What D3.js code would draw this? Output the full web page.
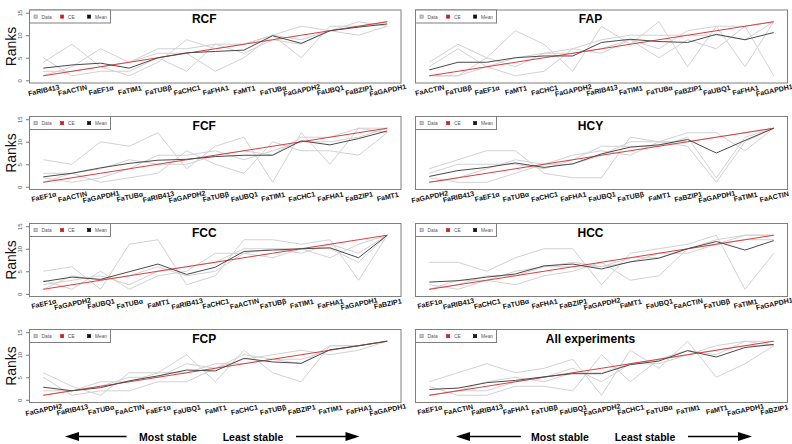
<!DOCTYPE html>
<html><head><meta charset="utf-8">
<script src="https://cdn.jsdelivr.net/npm/d3@7"></script>
<style>body{margin:0;background:#fff}svg{display:block}</style>
</head><body>
<svg id="c" width="792" height="444"></svg>
<script>
// ---------- data ----------
const ceRanks = [1,2,3,4,5,6,7,8,9,10,11,12,13];
const yTicks = [0,5,10,15];

const genesRCF = ["FaRIB413","FaACTIN","FaEF1α","FaTIM1","FaTUBβ","FaCHC1","FaFHA1","FaMT1","FaTUBα","FaGAPDH2","FaUBQ1","FaBZIP1","FaGAPDH1"];
const dataRCF = [
  [4,8,3,1,4,9,7,8,10,12,11,13,12],
  [1,3,7,4,6,6,2,5,10,5,12,12,13],
  [5,1,2,2,5,2,8,6,9,8,11,10,12],
  [2,2,3,4,7,7,8,8,10,9,11,12,13]];
const meanRCF = [2.7,3.4,3.8,2.7,5.0,6.1,6.4,6.7,9.9,8.2,11.0,11.8,12.5];

const genesFAP = ["FaACTIN","FaTUBβ","FaEF1α","FaMT1","FaCHC1","FaGAPDH2","FaRIB413","FaTIM1","FaTUBα","FaBZIP1","FaUBQ1","FaFHA1","FaGAPDH1"];
const dataFAP = [
  [4,8,5,11,8,2,12,8,13,3,12,3,13],
  [3,7,3,1,2,7,6,9,5,9,7,12,1],
  [1,1,3,5,6,7,9,10,10,10,10,9,13],
  [1,1,5,3,6,6,7,9,7,11,12,12,13]];
const meanFAP = [2.3,4.0,4.0,5.0,5.4,5.4,8.4,9.1,8.6,8.4,10.2,9.0,10.6];

const genesFCF = ["FaEF1α","FaACTIN","FaGAPDH1","FaTUBα","FaRIB413","FaGAPDH2","FaTUBβ","FaUBQ1","FaTIM1","FaCHC1","FaFHA1","FaBZIP1","FaMT1"];
const dataFCF = [
  [6,5,10,9,12,4,9,11,1,12,5,13,13],
  [3,3,1,2,3,8,5,3,10,8,8,7,12],
  [2,1,2,4,7,7,8,6,8,10,10,11,13],
  [1,3,4,6,5,5,7,8,7,11,11,13,12]];
const meanFCF = [2.2,3.0,4.2,5.2,5.9,6.1,6.7,7.0,7.0,10.2,9.3,10.7,12.4];

const genesHCY = ["FaGAPDH2","FaRIB413","FaEF1α","FaTUBα","FaCHC1","FaFHA1","FaUBQ1","FaTUBβ","FaMT1","FaBZIP1","FaGAPDH1","FaTIM1","FaACTIN"];
const dataHCY = [
  [4,6,8,8,3,2,2,11,10,12,12,8,13],
  [2,1,1,3,5,7,8,7,10,9,1,10,13],
  [3,5,5,5,4,6,9,9,9,11,2,11,13],
  [1,2,4,6,5,5,7,10,10,10,11,12,13]];
const meanHCY = [2.3,3.6,4.3,5.3,4.3,5.1,7.3,8.8,9.3,10.5,7.5,10.3,13];

const genesFCC = ["FaEF1α","FaGAPDH2","FaUBQ1","FaTUBα","FaMT1","FaRIB413","FaCHC1","FaACTIN","FaTUBβ","FaTIM1","FaFHA1","FaGAPDH1","FaBZIP1"];
const dataFCC = [
  [5,6,1,11,12,2,4,12,12,11,12,3,13],
  [3,1,5,1,4,5,9,9,8,10,8,11,13],
  [2,3,4,2,5,6,7,10,10,10,10,7,13],
  [1,4,3,4,6,4,5,9,10,9,11,9,13]];
const meanFCC = [2.7,3.7,3.2,4.9,6.6,4.3,5.9,9.4,9.7,10.0,10.2,8.0,13];

const genesHCC = ["FaEF1α","FaRIB413","FaCHC1","FaTUBα","FaFHA1","FaBZIP1","FaGAPDH2","FaMT1","FaUBQ1","FaACTIN","FaTUBβ","FaTIM1","FaGAPDH1"];
const dataHCC = [
  [7,7,5,8,10,10,2,9,10,11,13,1,9],
  [2,1,3,2,4,5,7,3,4,10,11,12,12],
  [1,2,4,4,6,6,6,8,8,10,12,13,13],
  [1,3,3,5,6,7,6,7,9,9,11,13,13]];
const meanHCC = [2.6,2.9,3.7,4.4,6.2,6.6,5.5,7.1,7.9,10.0,11.6,9.7,11.8];

const genesFCP = ["FaGAPDH2","FaRIB413","FaTUBα","FaACTIN","FaEF1α","FaUBQ1","FaMT1","FaCHC1","FaTUBβ","FaBZIP1","FaTIM1","FaFHA1","FaGAPDH1"];
const dataFCP = [
  [6,3,1,6,6,10,4,11,6,4,12,12,13],
  [5,1,2,2,4,4,7,9,10,11,10,11,13],
  [2,2,3,5,5,8,7,10,9,9,11,12,13],
  [1,2,4,4,6,6,8,8,9,8,12,12,13]];
const meanFCP = [2.8,2.0,2.7,4.2,5.3,6.6,6.4,9.2,8.4,8.1,11.1,12.0,13];

const genesALL = ["FaEF1α","FaACTIN","FaRIB413","FaFHA1","FaTUBβ","FaUBQ1","FaGAPDH2","FaCHC1","FaTUBα","FaTIM1","FaMT1","FaGAPDH1","FaBZIP1"];
const dataALL = [
  [4,6,8,6,7,9,1,11,7,13,5,8,12],
  [3,1,1,3,3,2,10,4,9,11,10,13,13],
  [1,2,2,4,5,7,4,8,9,10,11,12,12],
  [1,2,4,5,4,6,6,8,8,10,12,13,12]];
const meanALL = [2.3,2.6,3.8,4.3,5.1,5.8,5.8,7.8,8.6,10.9,9.5,11.6,12.3];

const titles = ["RCF","FAP","FCF","HCY","FCC","HCC","FCP","All experiments"];
const legendLabels = ["Data","CE","Mean"];
const stableLabels = ["Most stable","Least stable"];

// ---------- layout ----------
const panels = [
  {title:titles[0], genes:genesRCF, data:dataRCF, mean:meanRCF, col:0, row:0},
  {title:titles[1], genes:genesFAP, data:dataFAP, mean:meanFAP, col:1, row:0},
  {title:titles[2], genes:genesFCF, data:dataFCF, mean:meanFCF, col:0, row:1},
  {title:titles[3], genes:genesHCY, data:dataHCY, mean:meanHCY, col:1, row:1},
  {title:titles[4], genes:genesFCC, data:dataFCC, mean:meanFCC, col:0, row:2},
  {title:titles[5], genes:genesHCC, data:dataHCC, mean:meanHCC, col:1, row:2},
  {title:titles[6], genes:genesFCP, data:dataFCP, mean:meanFCP, col:0, row:3},
  {title:titles[7], genes:genesALL, data:dataALL, mean:meanALL, col:1, row:3}
];
const colX = [[29.5,401],[415.5,787.5]];
const rowTop = [10,116.5,223.5,329.5];
const boxH = 73;
const FONT = "'Liberation Sans', Arial, Helvetica, sans-serif";
const colData = "#d2d2d2", colCE = "#e03c3c", colMean = "#4a4a4a", colBox = "#7f7f7f";

const svg = d3.select("#c").style("font-family", FONT);

panels.forEach(p => {
  const [x0, x1] = colX[p.col];
  const top = rowTop[p.row];
  const x = d3.scaleLinear().domain([1 - 0.48, 13 + 0.48]).range([x0, x1]);
  const y = d3.scaleLinear().domain([-0.6, 15.6]).range([top + boxH, top]);
  const g = svg.append("g");

  const line = d3.line().x((d, i) => x(i + 1)).y(d => y(d));

  g.selectAll("path.data").data(p.data).join("path")
    .attr("class","data").attr("d", line)
    .attr("fill","none").attr("stroke", colData).attr("stroke-width", 1);
  g.append("path").attr("d", line(ceRanks))
    .attr("fill","none").attr("stroke", colCE).attr("stroke-width", 1);
  g.append("path").attr("d", line(p.mean))
    .attr("fill","none").attr("stroke", colMean).attr("stroke-width", 1);

  g.append("rect").attr("x", x0).attr("y", top).attr("width", x1 - x0).attr("height", boxH)
    .attr("fill","none").attr("stroke", colBox).attr("stroke-width", 1);

  // legend
  const lg = g.append("g").attr("transform", `translate(${x0},${top})`);
  lg.append("rect").attr("x",0).attr("y",0).attr("width",81).attr("height",13)
    .attr("fill","#fff").attr("stroke", colBox).attr("stroke-width",1);
  const lgSw = [["#c8c8c8","#8a8a8a"],[ "#cc1f1f","#cc1f1f"],["#111","#111"]];
  const lgX = [4.5, 31, 58];
  legendLabels.forEach((t, i) => {
    lg.append("rect").attr("x", lgX[i]).attr("y", 5).attr("width", 3.2).attr("height", 3.2)
      .attr("fill", lgSw[i][0]).attr("stroke", lgSw[i][1]).attr("stroke-width", 0.6);
    lg.append("text").attr("x", lgX[i] + 7.5).attr("y", 8.6).text(t)
      .attr("font-size", 4.8).attr("fill", "#555");
  });

  // title
  g.append("text").attr("x", (x0 + x1) / 2 - 11).attr("y", top + 13.3)
    .attr("text-anchor","middle").attr("font-weight","bold").attr("font-size", 12)
    .attr("fill","#000").text(p.title);

  // x axis labels
  const xa = d3.axisBottom(x).tickValues(ceRanks).tickSize(0)
    .tickFormat((d) => p.genes[d - 1]);
  const xg = g.append("g").attr("transform", `translate(0,${top + boxH})`).call(xa);
  xg.select(".domain").remove();
  xg.selectAll("text").attr("y", 0).attr("dy", "0.35em")
    .attr("transform", "translate(0,7.2) rotate(-12)")
    .attr("text-anchor","middle")
    .style("font-family", FONT).style("font-size", "7px").style("font-weight","bold")
    .attr("fill","#111");

  if (p.col === 0) {
    const ya = d3.axisLeft(y).tickValues(yTicks).tickSize(3.5).tickFormat(d3.format("d"));
    const yg = g.append("g").attr("transform", `translate(${x0},0)`).call(ya);
    yg.select(".domain").remove();
    yg.selectAll("line").attr("stroke", "#777");
    yg.selectAll("text").attr("x", 0).attr("y", -7.3).attr("dy", 0)
      .attr("transform","rotate(-90)").attr("text-anchor","middle")
      .style("font-family", FONT).style("font-size","6px").attr("fill","#555");
    g.append("text").attr("transform", `translate(16,${top + boxH / 2}) rotate(-90)`)
      .attr("text-anchor","middle").attr("font-size", 14).attr("fill","#111").text("Ranks");
  }
});

// bottom arrows and stability labels
const arrowSets = [
  {l0:65, l1:126.5, t1:168, t2:253, r0:296, r1:359.5},
  {l0:456, l1:521, t1:560, t2:645, r0:688, r1:752}
];
const ay = 436.5;
arrowSets.forEach(a => {
  const g = svg.append("g");
  g.append("line").attr("x1", a.l0 + 12).attr("x2", a.l1).attr("y1", ay).attr("y2", ay)
    .attr("stroke","#000").attr("stroke-width", 1.6);
  g.append("path").attr("d", `M${a.l0},${ay} L${a.l0 + 14},${ay - 4.5} L${a.l0 + 14},${ay + 4.5} Z`).attr("fill","#000");
  g.append("line").attr("x1", a.r0).attr("x2", a.r1 - 12).attr("y1", ay).attr("y2", ay)
    .attr("stroke","#000").attr("stroke-width", 1.6);
  g.append("path").attr("d", `M${a.r1},${ay} L${a.r1 - 14},${ay - 4.5} L${a.r1 - 14},${ay + 4.5} Z`).attr("fill","#000");
  g.append("text").attr("x", a.t1).attr("y", 441).attr("text-anchor","middle")
    .attr("font-weight","bold").attr("font-size", 10.5).text(stableLabels[0]);
  g.append("text").attr("x", a.t2).attr("y", 441).attr("text-anchor","middle")
    .attr("font-weight","bold").attr("font-size", 10.5).text(stableLabels[1]);
});
</script>
</body></html>
